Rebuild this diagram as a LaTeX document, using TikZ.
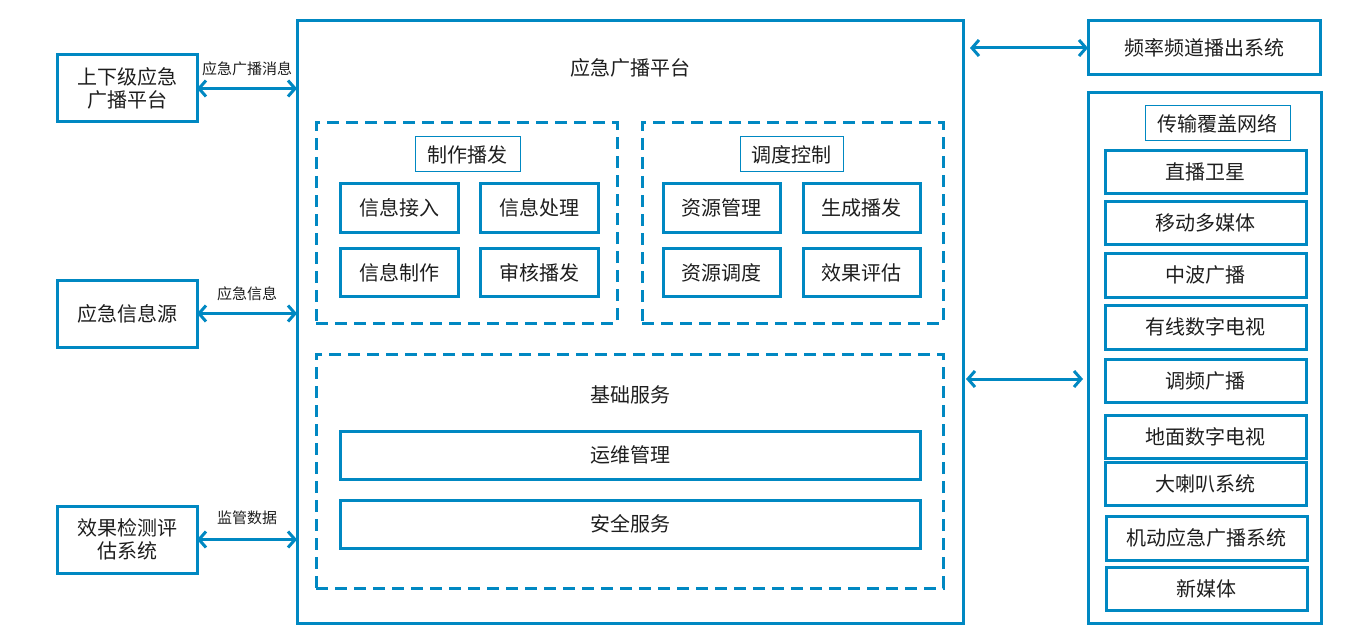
\documentclass[tikz,border=0pt]{standalone}
\usepackage{fontspec}
\setmainfont{Noto Sans CJK SC}
\usetikzlibrary{positioning,arrows.meta}
\definecolor{LineBlue}{RGB}{0,136,194}
\definecolor{TextGray}{RGB}{30,30,30}

\begin{document}
\begin{tikzpicture}[x=1pt, y=-1pt, node distance = 0pt,
BoxStyle/.style={draw=LineBlue, line width=3pt, font=\fontsize{20}{23}\selectfont,
                text=TextGray, inner sep=0pt, outer sep=0pt},
TitleStyle/.style={draw=LineBlue, line width=1pt, font=\fontsize{20}{23}\selectfont,
                text=TextGray, inner sep=0pt, outer sep=0pt},
DashStyle/.style={draw=LineBlue, line width=3pt, dash pattern=on 12pt off 7pt},
LabelStyle/.style={font=\fontsize{15}{17}\selectfont, text=TextGray, inner sep=0pt},
ArrowStyle/.style={draw=LineBlue, line width=3pt,
                {Straight Barb[length=7pt, width=16pt]}-{Straight Barb[length=7pt, width=16pt]}},]
\useasboundingbox (0,0) rectangle (1356,631);

% left side
\node [BoxStyle, minimum width=140pt, minimum height=67pt, align=center] (upper) at (127,88.5) {上下级应急\\广播平台};
\node [BoxStyle, minimum width=140pt, minimum height=67pt] (source) at (127,313.5) {应急信息源};
\node [BoxStyle, minimum width=140pt, minimum height=67pt, align=center] (assess) at (127,539.5) {效果检测评\\估系统};

% platform
\node [BoxStyle, minimum width=666pt, minimum height=602pt] (plat) at (630,322) {};
\node [LabelStyle, font=\fontsize{20}{23}\selectfont] (platT) at (630,68) {应急广播平台};

\node [DashStyle, minimum width=301pt, minimum height=200pt] (prod) at (466.5,223) {};
\node [TitleStyle, minimum width=105pt, minimum height=35pt] (prodT) at (467.5,154.5) {制作播发};
\node [BoxStyle, minimum width=118pt, minimum height=48pt] (p1) at (399,208) {信息接入};
\node [BoxStyle, minimum width=118pt, minimum height=48pt] (p2) at (539,208) {信息处理};
\node [BoxStyle, minimum width=118pt, minimum height=48pt] (p3) at (399,272.5) {信息制作};
\node [BoxStyle, minimum width=118pt, minimum height=48pt] (p4) at (539,272.5) {审核播发};

\node [DashStyle, minimum width=301pt, minimum height=200pt] (ctrl) at (792.5,223) {};
\node [TitleStyle, minimum width=103pt, minimum height=35pt] (ctrlT) at (791.5,154.5) {调度控制};
\node [BoxStyle, minimum width=117pt, minimum height=48pt] (c1) at (721.5,208) {资源管理};
\node [BoxStyle, minimum width=117pt, minimum height=48pt] (c2) at (861.5,208) {生成播发};
\node [BoxStyle, minimum width=117pt, minimum height=48pt] (c3) at (721.5,272.5) {资源调度};
\node [BoxStyle, minimum width=117pt, minimum height=48pt] (c4) at (861.5,272.5) {效果评估};

\node [DashStyle, minimum width=627pt, minimum height=234pt] (base) at (629.5,471) {};
\node [LabelStyle, font=\fontsize{20}{23}\selectfont] (baseT) at (630,395) {基础服务};
\node [BoxStyle, minimum width=580pt, minimum height=48pt] (b1) at (630,455) {运维管理};
\node [BoxStyle, minimum width=580pt, minimum height=48pt] (b2) at (630,524) {安全服务};

% right side
\node [BoxStyle, minimum width=232pt, minimum height=54pt] (freq) at (1204,48) {频率频道播出系统};
\node [BoxStyle, minimum width=233pt, minimum height=530pt] (net) at (1204.5,358) {};
\node [TitleStyle, minimum width=145pt, minimum height=35pt] (netT) at (1217.5,123.5) {传输覆盖网络};
\node [BoxStyle, minimum width=201pt, minimum height=42pt] (n1) at (1205.5,172) {直播卫星};
\node [BoxStyle, minimum width=201pt, minimum height=43pt] (n2) at (1205.5,222.5) {移动多媒体};
\node [BoxStyle, minimum width=201pt, minimum height=44pt] (n3) at (1205.5,275) {中波广播};
\node [BoxStyle, minimum width=201pt, minimum height=44pt] (n4) at (1205.5,327) {有线数字电视};
\node [BoxStyle, minimum width=201pt, minimum height=43pt] (n5) at (1205.5,380.5) {调频广播};
\node [BoxStyle, minimum width=201pt, minimum height=43pt] (n6) at (1205.5,436.5) {地面数字电视};
\node [BoxStyle, minimum width=201pt, minimum height=43pt] (n7) at (1205.5,483.5) {大喇叭系统};
\node [BoxStyle, minimum width=201pt, minimum height=44pt] (n8) at (1206.5,538) {机动应急广播系统};
\node [BoxStyle, minimum width=201pt, minimum height=43pt] (n9) at (1206.5,588.5) {新媒体};

% connectors
\draw [ArrowStyle] (upper.east) -- (upper.east -| plat.west)
      node [LabelStyle, midway, above=11pt] (msgL) {应急广播消息};
\draw [ArrowStyle] (source.east) -- (source.east -| plat.west)
      node [LabelStyle, midway, above=11pt] (infoL) {应急信息};
\draw [ArrowStyle] (assess.east) -- (assess.east -| plat.west)
      node [LabelStyle, midway, above=13pt] (supL) {监管数据};
\draw [ArrowStyle, shorten <=7pt] (freq.west -| plat.east) -- (freq.west);
\draw [ArrowStyle, shorten <=3pt, shorten >=5pt] (plat.east |- n5.west) ++(0,-1.5) coordinate (netA) -- (netA -| net.west);
\end{tikzpicture}
\end{document}
